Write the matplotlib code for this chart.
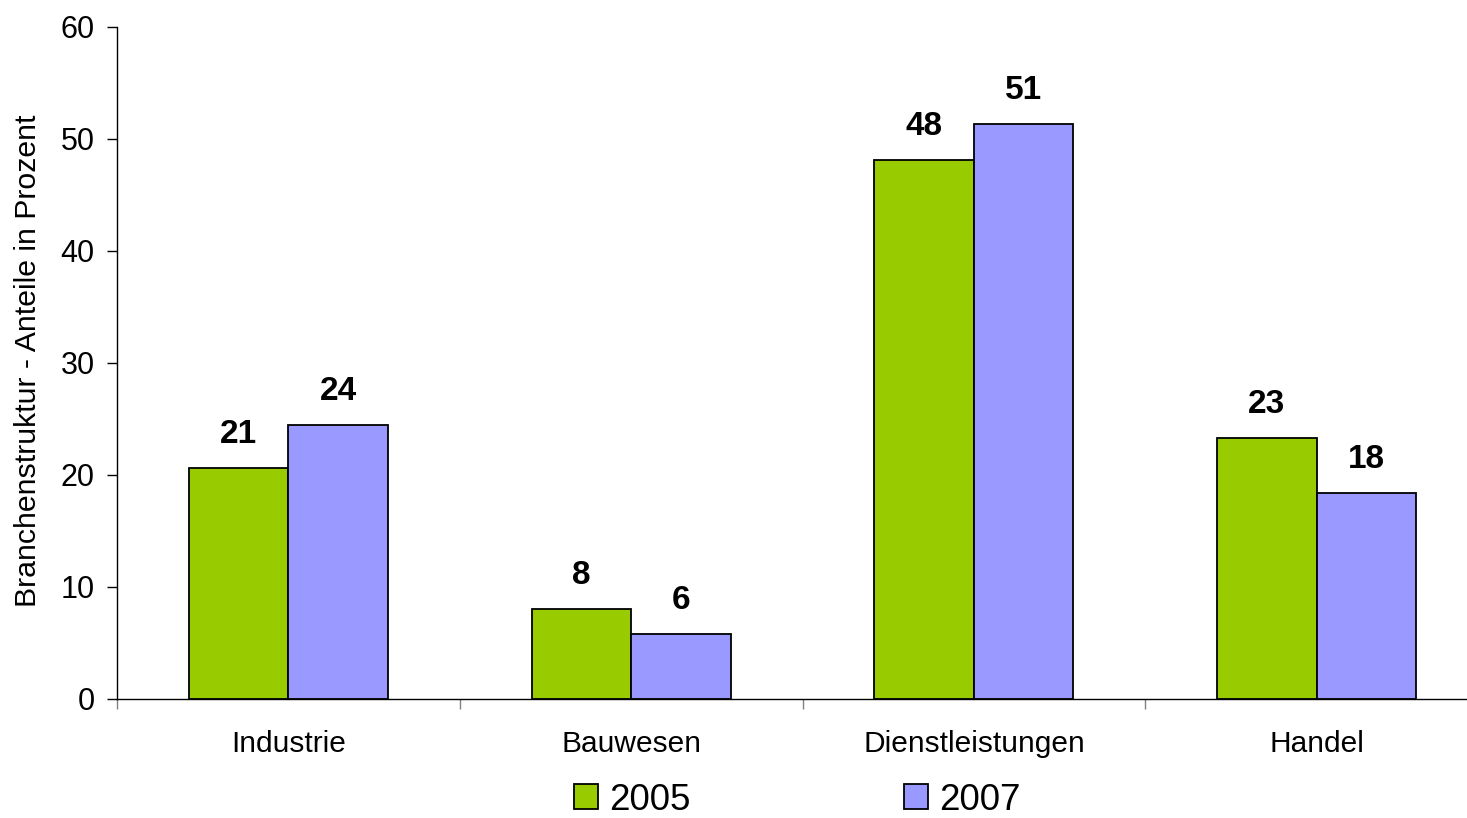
import numpy as np
import matplotlib.pyplot as plt

plt.rcParams['font.family'] = ['Liberation Sans', 'DejaVu Sans']

branchen = ['Industrie', 'Bauwesen', 'Dienstleistungen', 'Handel']
werte_2005 = [20.6, 8.0, 48.1, 23.3]
werte_2007 = [24.5, 5.8, 51.3, 18.4]
labels_2005 = ['21', '8', '48', '23']
labels_2007 = ['24', '6', '51', '18']

fig = plt.figure(figsize=(14.67, 8.18), dpi=100)
# plot area runs past the right edge like in the original
ax = fig.add_axes([117/1467, 1 - 699/818, 1371/1467, 672/818])

x = np.arange(len(branchen))
w = 0.29
b1 = ax.bar(x - w/2, werte_2005, w, color='#99CC00', edgecolor='black', linewidth=1.3, label='2005')
b2 = ax.bar(x + w/2, werte_2007, w, color='#9999FF', edgecolor='black', linewidth=1.3, label='2007')

for bars, labs in [(b1, labels_2005), (b2, labels_2007)]:
    for r, t in zip(bars, labs):
        ax.annotate(t, (r.get_x() + r.get_width()/2, r.get_height()),
                    xytext=(0, 13), textcoords='offset points',
                    ha='center', va='bottom', fontsize=24, fontweight='bold')

ax.set_xlim(-0.5, 3.5)
ax.set_ylim(0, 60)
ax.set_yticks(range(0, 61, 10))
ax.tick_params(axis='y', labelsize=22, length=7, width=1, pad=9, direction='out')
ax.set_xticks(x)
ax.set_xticklabels(branchen)
ax.tick_params(axis='x', which='major', length=0, labelsize=21.5, pad=22)
ax.set_xticks(np.arange(-0.5, 3.0, 1.0), minor=True)
ax.tick_params(axis='x', which='minor', length=7, width=1, color='#808080', direction='out')

for s in ['top', 'right']:
    ax.spines[s].set_visible(False)
ax.spines['left'].set_linewidth(1.0)
ax.spines['bottom'].set_linewidth(1.0)

fig.text(28/1467, 1 - 361/818, 'Branchenstruktur - Anteile in Prozent',
         rotation=90, ha='center', va='center', fontsize=21.8)

fig.legend(loc='center', bbox_to_anchor=(797/1467, 1 - 800/818), ncol=2,
           frameon=False, fontsize=26.5, handlelength=0.65, handleheight=0.65,
           handletextpad=0.3, columnspacing=5.8, borderpad=0)

fig.savefig('out.png', dpi=100)
